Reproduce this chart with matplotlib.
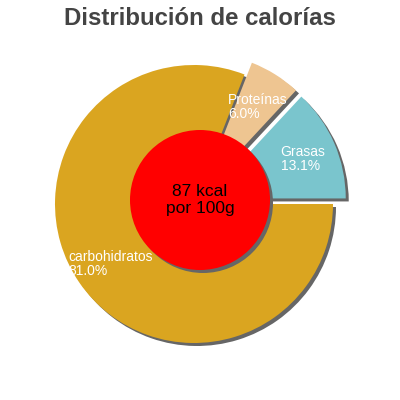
import numpy as np
import matplotlib
matplotlib.use("Agg")
import matplotlib.pyplot as plt
from matplotlib.patches import Wedge, Circle
from matplotlib.transforms import ScaledTranslation

plt.rcParams['font.family'] = ['Liberation Sans', 'DejaVu Sans']

title = "Distribución de calorías"
categories = ["Grasas", "Proteínas", "carbohidratos"]
values = [13.1, 6.0, 81.0]
colors = ["#7AC5CD", "#EEC591", "#DAA520"]
explode = [0.1, 0.1, 0.0]
center_text = "87 kcal\npor 100g"

fig = plt.figure(figsize=(4, 4), dpi=100)
ax = fig.add_axes([0, 0, 1, 1])
ax.axis('off')

scale = 139.0  # px per unit radius
xmin = -194 / scale
ymin = -196 / scale
span = 400 / scale

wedges, _ = ax.pie(values, colors=colors, explode=explode, startangle=0,
                   counterclock=True, radius=1.0, normalize=True,
                   wedgeprops=dict(linewidth=0, zorder=3))
ax.set_xlim(xmin, xmin + span)
ax.set_ylim(ymin, ymin + span)
ax.set_aspect('auto')

off = ScaledTranslation(3 / 100, -3 / 100, fig.dpi_scale_trans)
for w in wedges:
    s = Wedge(w.center, w.r, w.theta1, w.theta2, facecolor="#666666",
              linewidth=0, zorder=2, transform=ax.transData + off)
    ax.add_patch(s)

for w, lab, v in zip(wedges, categories, values):
    mid = np.deg2rad((w.theta1 + w.theta2) / 2)
    cx, cy = w.center
    lx = cx + 0.74 * np.cos(mid) + 2 / scale
    ly = cy + 0.74 * np.sin(mid) - 2 / scale
    ax.text(lx, ly, f"{lab}\n{v:.1f}%", color="white", fontsize=10,
            ha='center', va='center', multialignment='left',
            linespacing=1.0, zorder=6)

# inner red circle
ccx, ccy = 6 / scale, 4 / scale
cr = 70 / scale
ax.add_patch(Circle((ccx, ccy), cr, facecolor="#666666", linewidth=0,
                    zorder=4, transform=ax.transData + off))
ax.add_patch(Circle((ccx, ccy), cr, facecolor="#FF0000", linewidth=0, zorder=5))
ax.text(ccx, ccy, center_text, color="black", fontsize=12.5, ha='center',
        va='center', linespacing=1.12, zorder=7)

fig.text(0.5, 1 - 25 / 400, title, ha='center', va='baseline',
         fontsize=17.3, fontweight='bold', color="#444444")

fig.savefig("out.png", dpi=100)
